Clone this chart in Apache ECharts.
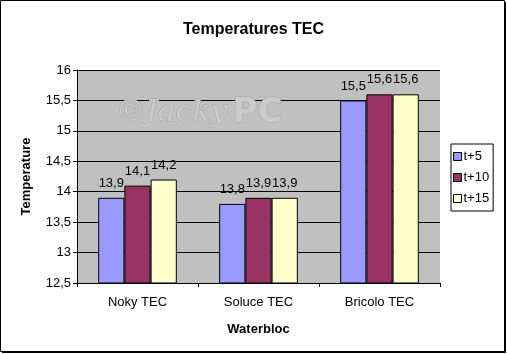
<!DOCTYPE html>
<html>
<head>
<meta charset="utf-8">
<script src="https://cdn.jsdelivr.net/npm/echarts@6/dist/echarts.min.js"></script>
<style>
  html, body { margin: 0; padding: 0; background: #fff; }
  #chart { width: 507px; height: 354px; }
</style>
</head>
<body>
<div id="chart"></div>
<script>
// Data
const categories = ['Noky TEC', 'Soluce TEC', 'Bricolo TEC'];
const seriesNames = ['t+5', 't+10', 't+15'];
const t5 = [13.9, 13.8, 15.5];
const t10 = [14.1, 13.9, 15.6];
const t15 = [14.2, 13.9, 15.6];
const colors = ['#9999FF', '#993366', '#FFFFCC'];

const font = 'Arial, "Liberation Sans", sans-serif';
const fmt = v => String(v).replace('.', ',');

const chart = echarts.init(document.getElementById('chart'));

function makeSeries(name, values, color) {
    return {
        name: name,
        type: 'bar',
        data: values,
        barGap: '0%',
        barCategoryGap: '35%',
        itemStyle: { color: color, borderColor: '#000', borderWidth: 1 },
        label: {
            show: true,
            position: 'top',
            distance: 8,
            color: '#000',
            fontFamily: font,
            fontSize: 13,
            formatter: p => fmt(p.value)
        }
    };
}

const option = {
    animation: false,
    backgroundColor: '#fff',
    title: {
        text: 'Temperatures TEC',
        left: 'center',
        top: 17,
        textStyle: { fontFamily: font, fontSize: 16, fontWeight: 'bold', color: '#000' }
    },
    grid: { left: 77, right: 67, top: 70, bottom: 71, backgroundColor: '#C0C0C0', show: true, borderWidth: 0 },
    legend: {
        orient: 'vertical',
        left: 451,
        top: 144,
        padding: [6, 4, 6, 2],
        itemGap: 8,
        itemWidth: 8,
        itemHeight: 8,
        borderColor: '#000',
        borderWidth: 1,
        backgroundColor: '#fff',
        icon: 'rect',
        itemStyle: { borderColor: '#000', borderWidth: 1 },
        textStyle: { fontFamily: font, fontSize: 13, color: '#000', padding: [0, 0, 0, -3], width: 35 },
        data: seriesNames
    },
    xAxis: {
        type: 'category',
        data: categories,
        name: 'Waterbloc',
        nameLocation: 'middle',
        nameGap: 40,
        nameTextStyle: { fontFamily: font, fontSize: 13, fontWeight: 'bold', color: '#000' },
        axisLine: { lineStyle: { color: '#000', width: 1 } },
        axisTick: { show: true, length: 4, lineStyle: { color: '#000' } },
        axisLabel: { fontFamily: font, fontSize: 13, color: '#000', margin: 13 }
    },
    yAxis: {
        type: 'value',
        min: 12.5,
        max: 16,
        interval: 0.5,
        name: 'Temperature',
        nameLocation: 'middle',
        nameGap: 44,
        nameTextStyle: { fontFamily: font, fontSize: 13, fontWeight: 'bold', color: '#000' },
        axisLine: { show: true, lineStyle: { color: '#000', width: 1 } },
        axisTick: { show: true, length: 4, lineStyle: { color: '#000' } },
        axisLabel: { fontFamily: font, fontSize: 13, color: '#000', margin: 6, formatter: v => fmt(v) },
        splitLine: { show: true, lineStyle: { color: '#000', width: 1 } }
    },
    graphic: [
        // faint watermark behind the bars
        {
            type: 'text',
            left: 115,
            top: 98,
            z: 1,
            style: {
                text: '\u00A9Jacky',
                font: 'italic 30px "DejaVu Serif", serif',
                fill: '#cbcbcb',
                stroke: '#a4a4a4',
                lineWidth: 1
            }
        },
        {
            type: 'text',
            left: 232,
            top: 96,
            z: 1,
            style: {
                text: 'PC',
                font: 'bold 34px "DejaVu Sans", sans-serif',
                fill: '#cbcbcb',
                stroke: '#a4a4a4',
                lineWidth: 1
            }
        },
        // outer frame with a thicker right/bottom edge
        {
            type: 'rect',
            shape: { x: 0.5, y: 0.5, width: 504, height: 351 },
            style: { fill: 'none', stroke: '#000', lineWidth: 1 },
            z: 100
        },
        {
            type: 'polyline',
            shape: { points: [[505.5, 2], [505.5, 352.5], [2, 352.5]] },
            style: { fill: 'none', stroke: '#000', lineWidth: 1 },
            z: 100
        }
    ],
    series: [
        makeSeries(seriesNames[0], t5, colors[0]),
        makeSeries(seriesNames[1], t10, colors[1]),
        makeSeries(seriesNames[2], t15, colors[2])
    ]
};

chart.setOption(option);
</script>
</body>
</html>
